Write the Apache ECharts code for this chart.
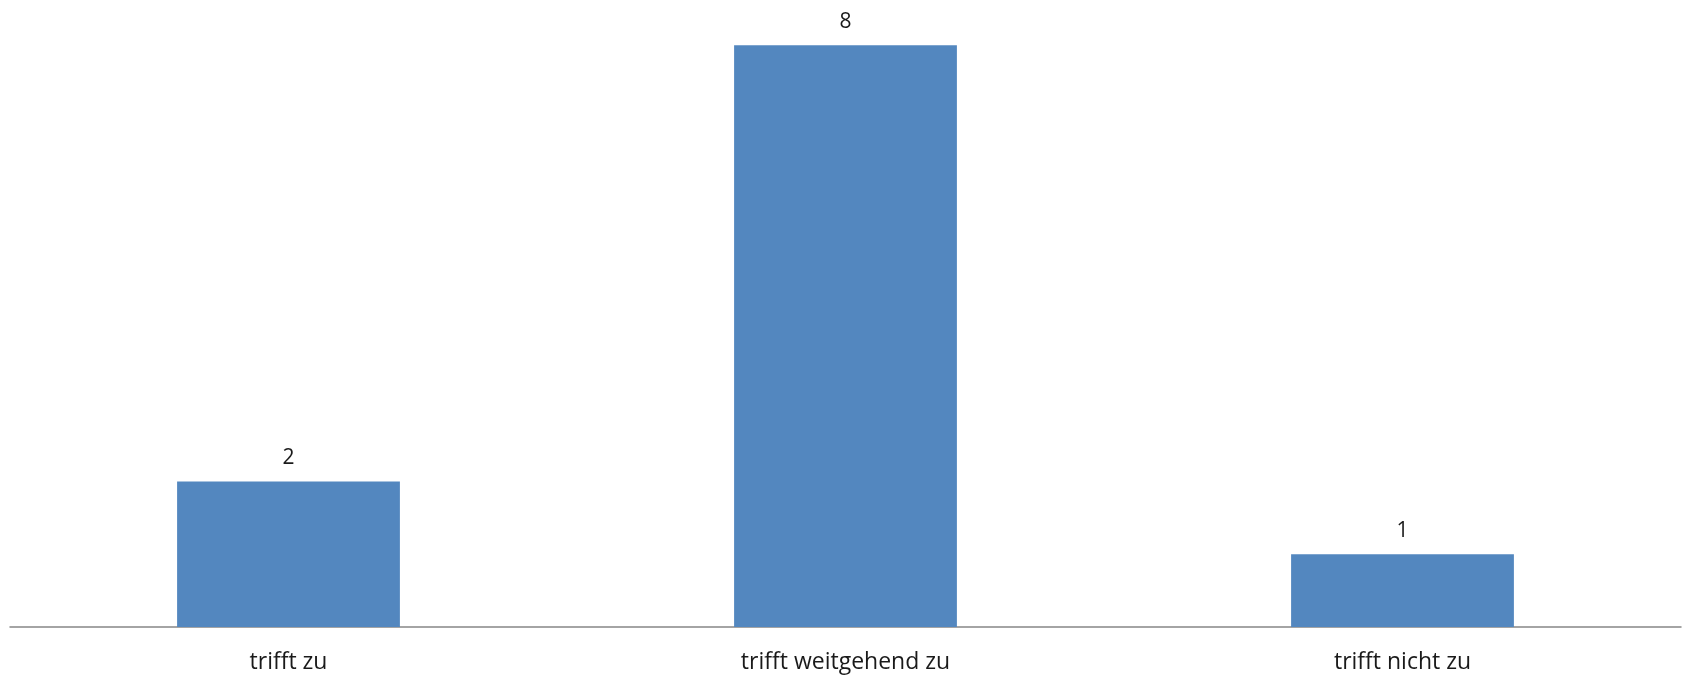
<!DOCTYPE html>
<html>
<head>
<meta charset="utf-8">
<script src="https://cdn.jsdelivr.net/npm/echarts@6/dist/echarts.min.js"></script>
<style>
html,body{margin:0;padding:0;background:#fff;}
#chart{width:1685px;height:675px;}
</style>
</head>
<body>
<div id="chart"></div>
<script>
const categories = ['trifft zu', 'trifft weitgehend zu', 'trifft nicht zu'];
const values = [2, 8, 1];

const chart = echarts.init(document.getElementById('chart'), null, {renderer: 'canvas'});
chart.setOption({
  animation: false,
  backgroundColor: '#ffffff',
  grid: {left: 10, right: 4, top: 45.3, bottom: 48, containLabel: false},
  xAxis: {
    type: 'category',
    data: categories,
    axisLine: {lineStyle: {color: '#878787', width: 1.5}},
    axisTick: {show: false},
    axisLabel: {color: '#1a1a1a', fontSize: 23, fontFamily: 'Open Sans', margin: 24}
  },
  yAxis: {
    type: 'value',
    min: 0, max: 8,
    show: false,
    splitLine: {show: false}
  },
  series: [{
    type: 'bar',
    data: values,
    barWidth: '40%',
    itemStyle: {color: '#5387BF'},
    label: {show: true, position: 'top', distance: 13, color: '#1a1a1a', fontSize: 21, fontFamily: 'Open Sans'}
  }]
});
</script>
</body>
</html>
